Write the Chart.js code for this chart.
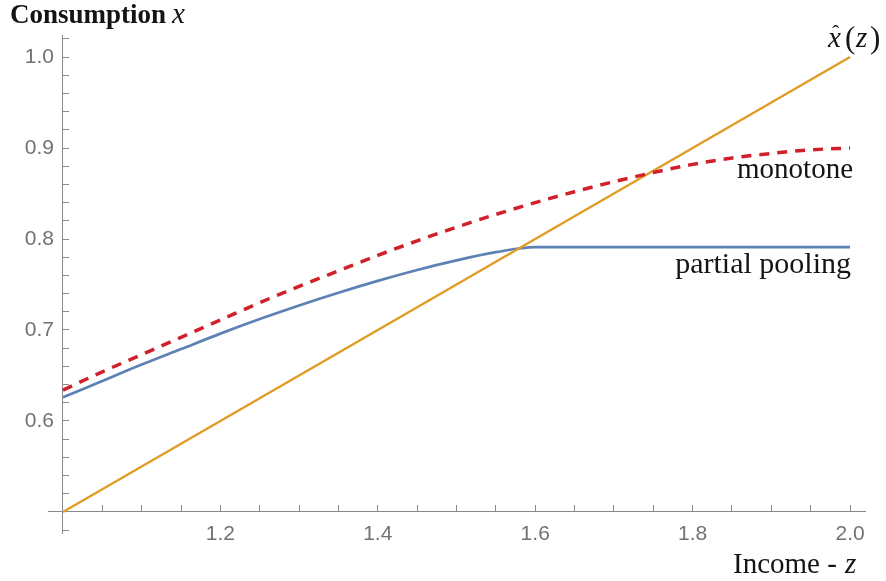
<!DOCTYPE html>
<html>
<head>
<meta charset="utf-8">
<script src="https://cdn.jsdelivr.net/npm/chart.js@4.4.1/dist/chart.umd.min.js"></script>
<style>
  html, body { margin: 0; padding: 0; background: #ffffff; }
  #wrap { width: 886px; height: 581px; position: relative; }
</style>
</head>
<body>
<div id="wrap"><canvas id="c" width="886" height="581"></canvas></div>
<script>
// ---- Data ----
const monotoneZ = [1.00,1.05,1.10,1.15,1.20,1.25,1.30,1.35,1.40,1.45,1.50,1.55,1.60,1.65,1.70,1.75,1.80,1.85,1.90,1.95,2.00];
const monotoneX = [0.634,0.654,0.673,0.692,0.711,0.730,0.748,0.765,0.782,0.798,0.813,0.827,0.840,0.852,0.863,0.873,0.882,0.889,0.894,0.898,0.900];

const poolingZ = [1.00,1.05,1.10,1.15,1.20,1.25,1.30,1.35,1.40,1.45,1.50,1.55,1.60,1.70,1.80,1.90,2.00];
const poolingX = [0.626,0.644,0.662,0.679,0.696,0.712,0.727,0.741,0.754,0.766,0.7765,0.7855,0.791,0.791,0.791,0.791,0.791];

const xhatZ = [1.0, 2.0];
const xhatX = [0.5, 1.0];

const xTickValues = [1.00,1.05,1.10,1.15,1.20,1.25,1.30,1.35,1.40,1.45,1.50,1.55,1.60,1.65,1.70,1.75,1.80,1.85,1.90,1.95,2.00];
const xTickLabels = ['1.2','1.4','1.6','1.8','2.0'];
const yTickValues = [0.48,0.50,0.52,0.54,0.56,0.58,0.60,0.62,0.64,0.66,0.68,0.70,0.72,0.74,0.76,0.78,0.80,0.82,0.84,0.86,0.88,0.90,0.92,0.94,0.96,0.98,1.00,1.02];
const yTickLabels = ['0.6','0.7','0.8','0.9','1.0'];

const toPts = (xs, ys) => xs.map((v, i) => ({ x: v, y: ys[i] }));

const AXIS = '#8a8a8a';
const LABEL = '#727272';
const tickFont = { family: '"Liberation Sans", Arial, sans-serif', size: 21 };

// shift y tick labels away from the axis line (the axis sits inside the plot)
const labelShift = {
  id: 'labelShift',
  beforeDraw(chart) {
    try {
      const ys = chart.scales.y;
      const items = ys.getLabelItems(chart.chartArea);
      items.forEach(it => {
        if (it.options && it.options.translation) it.options.translation[0] -= 9;
      });
    } catch (e) {}
  }
};

const textPlugin = {
  id: 'texts',
  afterDraw(chart) {
    const ctx = chart.ctx;
    ctx.save();
    ctx.fillStyle = '#141414';
    ctx.textBaseline = 'alphabetic';
    ctx.textAlign = 'left';
    // y-axis title
    ctx.font = 'bold 27px "Liberation Serif"';
    ctx.fillText('Consumption', 10, 23);
    ctx.font = 'italic 29px "Liberation Serif"';
    ctx.fillText('x', 172, 23);
    // x-axis title
    ctx.font = '29px "Liberation Serif"';
    ctx.fillText('Income -', 733, 573);
    ctx.font = 'italic 29px "Liberation Serif"';
    ctx.fillText('z', 845, 573);
    // curve annotations
    ctx.textAlign = 'right';
    ctx.font = '29px "Liberation Serif"';
    ctx.fillText('monotone', 853, 178);
    ctx.font = '30px "Liberation Serif"';
    ctx.fillText('partial pooling', 851, 273);
    // x-hat label
    ctx.textAlign = 'left';
    ctx.font = 'italic 29px "Liberation Serif"';
    ctx.fillText('x', 828, 47);
    ctx.font = '22px "Liberation Serif"';
    ctx.fillText('\u02C6', 832, 40);
    ctx.font = '31px "Liberation Serif"';
    ctx.fillText('(', 845, 48);
    ctx.font = 'italic 29px "Liberation Serif"';
    ctx.fillText('z', 856, 47);
    ctx.font = '31px "Liberation Serif"';
    ctx.fillText(')', 870, 48);
    ctx.restore();
  }
};

new Chart(document.getElementById('c'), {
  type: 'line',
  data: {
    datasets: [
      {
        label: 'monotone',
        data: toPts(monotoneZ, monotoneX),
        borderColor: '#d0202a',
        borderWidth: 3.5,
        borderDash: [10, 8],
        pointRadius: 0,
        cubicInterpolationMode: 'monotone',
        fill: false
      },
      {
        label: 'x hat',
        data: toPts(xhatZ, xhatX),
        borderColor: '#e09c24',
        borderWidth: 2.4,
        pointRadius: 0,
        fill: false
      },
      {
        label: 'partial pooling',
        data: toPts(poolingZ, poolingX),
        borderColor: '#5e81b5',
        borderWidth: 2.7,
        pointRadius: 0,
        cubicInterpolationMode: 'monotone',
        fill: false
      }
    ]
  },
  options: {
    responsive: false,
    animation: false,
    devicePixelRatio: 1,
    layout: { padding: { left: 48, top: 35, right: 21, bottom: 48 } },
    plugins: { legend: { display: false }, tooltip: { enabled: false }, title: { display: false } },
    scales: {
      x: {
        type: 'linear',
        min: 0.981,
        max: 2.019,
        position: { y: 0.5 },
        afterBuildTicks: s => { s.ticks = xTickValues.map(v => ({ value: v })); },
        grid: { drawOnChartArea: false, drawTicks: true, tickLength: -7, tickColor: AXIS, tickWidth: 1 },
        border: { display: true, color: AXIS, width: 1 },
        ticks: {
          autoSkip: false, maxRotation: 0, minRotation: 0,
          font: tickFont, color: LABEL, padding: 17,
          callback: v => { const s = Number(v).toFixed(1); return (xTickLabels.includes(s) && Math.abs(v * 5 - Math.round(v * 5)) < 1e-6) ? s : ''; }
        }
      },
      y: {
        type: 'linear',
        min: 0.4769,
        max: 1.0242,
        position: { x: 1.0 },
        afterBuildTicks: s => { s.ticks = yTickValues.map(v => ({ value: v })); },
        grid: { drawOnChartArea: false, drawTicks: true, tickLength: -7, tickColor: AXIS, tickWidth: 1 },
        border: { display: true, color: AXIS, width: 1 },
        ticks: {
          autoSkip: false,
          font: tickFont, color: LABEL, padding: 16,
          callback: v => { const s = Number(v).toFixed(1); return (yTickLabels.includes(s) && Math.abs(v * 10 - Math.round(v * 10)) < 1e-6) ? s : ''; }
        }
      }
    }
  },
  plugins: [labelShift, textPlugin]
});
</script>
</body>
</html>
